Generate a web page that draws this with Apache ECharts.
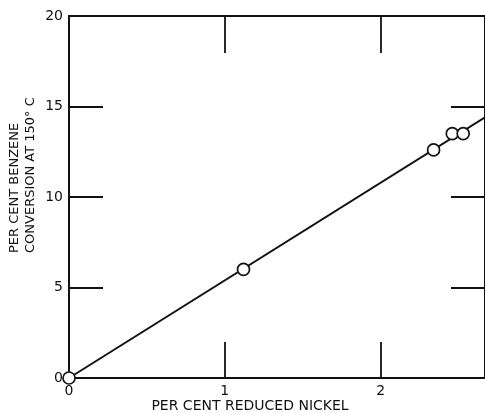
<!DOCTYPE html>
<html>
<head>
<meta charset="utf-8">
<script src="https://cdn.jsdelivr.net/npm/echarts@6/dist/echarts.min.js"></script>
<style>
  html, body { margin: 0; padding: 0; background: #fff; }
  #chart { width: 485px; height: 413px; }
</style>
</head>
<body>
<div id="chart"></div>
<script>
// Measured benzene conversion vs. reduced nickel content
const nickel = [0, 1.12, 2.34, 2.46, 2.53];
const conversion = [0, 6.0, 12.6, 13.5, 13.5];

// Straight line through the origin fitted to the points
const fitNickel = [0, 2.67];
const fitConversion = [0, 14.4];

const xMax = 2.67;
const xTickLabels = [0, 1, 2];
const xInnerTicks = [1, 2];
const yTickLabels = [0, 5, 10, 15, 20];
const yInnerTicks = [5, 10, 15];

const xTitle = 'PER CENT REDUCED NICKEL';
const yTitle = ['PER CENT BENZENE', 'CONVERSION AT 150\u00B0 C'];

const FONT = 'DejaVu Sans';
const INK = '#111';

const chart = echarts.init(document.getElementById('chart'), null, { renderer: 'canvas' });

const axisLine = { show: true, onZero: false, lineStyle: { color: INK, width: 2 } };
const tickStyle = { color: INK, width: 1.8 };
const labelStyle = { color: INK, fontFamily: FONT, fontSize: 14, margin: 6 };

chart.setOption({
  animation: false,
  backgroundColor: '#fff',
  grid: { left: 69, top: 16, right: -6, bottom: 35, containLabel: false },
  xAxis: [
    {
      type: 'value', position: 'bottom', min: 0, max: xMax, interval: 1,
      axisLine: axisLine,
      axisTick: { show: true, inside: true, length: 36, customValues: xInnerTicks, lineStyle: tickStyle },
      axisLabel: Object.assign({ show: true, customValues: xTickLabels }, labelStyle),
      splitLine: { show: false }
    },
    {
      type: 'value', position: 'top', min: 0, max: xMax, interval: 1,
      axisLine: axisLine,
      axisTick: { show: true, inside: true, length: 37, customValues: xInnerTicks, lineStyle: tickStyle },
      axisLabel: { show: false },
      splitLine: { show: false }
    }
  ],
  yAxis: [
    {
      type: 'value', position: 'left', min: 0, max: 20, interval: 5,
      axisLine: axisLine,
      axisTick: { show: true, inside: true, length: 34, customValues: yInnerTicks, lineStyle: tickStyle },
      axisLabel: Object.assign({ show: true, customValues: yTickLabels }, labelStyle),
      splitLine: { show: false }
    },
    {
      type: 'value', position: 'right', min: 0, max: 20, interval: 5,
      axisLine: axisLine,
      axisTick: { show: true, inside: true, length: 34, customValues: yInnerTicks, lineStyle: tickStyle },
      axisLabel: { show: false },
      splitLine: { show: false }
    }
  ],
  series: [
    {
      type: 'line',
      xAxisIndex: 0, yAxisIndex: 0,
      data: fitNickel.map((x, i) => [x, fitConversion[i]]),
      showSymbol: false,
      lineStyle: { color: INK, width: 2 },
      z: 2
    },
    {
      type: 'scatter',
      xAxisIndex: 0, yAxisIndex: 0,
      data: nickel.map((x, i) => [x, conversion[i]]),
      symbol: 'circle',
      symbolSize: 12,
      itemStyle: { color: '#fff', opacity: 1, borderColor: INK, borderWidth: 1.7 },
      clip: false,
      z: 3
    }
  ],
  graphic: [
    {
      type: 'text',
      x: 250, y: 406,
      style: {
        text: xTitle,
        font: '14px "' + FONT + '"',
        fill: INK,
        textAlign: 'center',
        textVerticalAlign: 'middle'
      }
    },
    {
      type: 'text',
      x: 23, y: 253,
      rotation: Math.PI / 2,
      style: {
        text: yTitle.join('\n'),
        font: '13px "' + FONT + '"',
        lineHeight: 16,
        fill: INK,
        textAlign: 'left',
        textVerticalAlign: 'middle'
      }
    }
  ]
});
</script>
</body>
</html>
